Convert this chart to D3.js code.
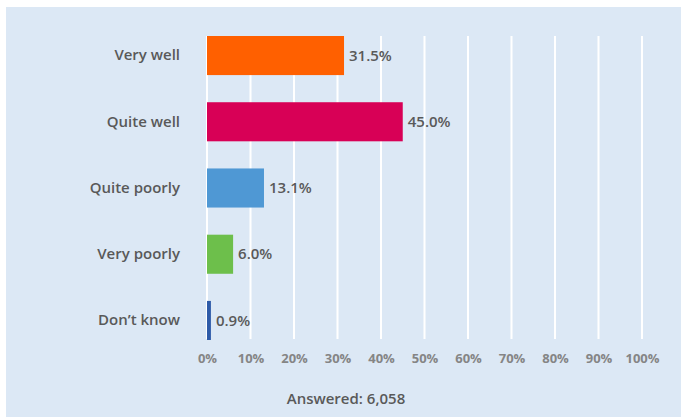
<!DOCTYPE html>
<html>
<head>
<meta charset="utf-8">
<script src="https://cdn.jsdelivr.net/npm/d3@7"></script>
<style>
  html, body { margin: 0; padding: 0; background: #ffffff; }
  svg { display: block; }
  text { font-family: "Open Sans", "DejaVu Sans", sans-serif; }
</style>
</head>
<body>
<svg id="chart" width="681" height="417"></svg>
<script>
// Survey responses (percent of respondents)
const categories = ["Very well", "Quite well", "Quite poorly", "Very poorly", "Don\u2019t know"];
const values = [31.5, 45.0, 13.1, 6.0, 0.9];
const barColors = ["#ff6000", "#d80056", "#4f98d4", "#6dbf4b", "#2e5ba8"];
const tickValues = [0, 10, 20, 30, 40, 50, 60, 70, 80, 90, 100];
const footnote = "Answered: 6,058";

const svg = d3.select("#chart");
const W = 681, H = 417;

// panel background
svg.append("rect")
  .attr("x", 6).attr("y", 7)
  .attr("width", W - 6).attr("height", H - 7)
  .attr("fill", "#dce8f5");

const x = d3.scaleLinear().domain([0, 100]).range([207, 642]);
const y = d3.scaleBand().domain(categories).range([36, 340])
  .paddingInner(0.41).paddingOuter(0);

// vertical gridlines
svg.append("g")
  .selectAll("line")
  .data(tickValues)
  .join("line")
  .attr("x1", d => x(d)).attr("x2", d => x(d))
  .attr("y1", 36).attr("y2", 339)
  .attr("stroke", "#ffffff")
  .attr("stroke-width", 2);

// bars
svg.append("g")
  .selectAll("rect")
  .data(values)
  .join("rect")
  .attr("x", x(0))
  .attr("y", (d, i) => y(categories[i]))
  .attr("width", d => x(d) - x(0))
  .attr("height", y.bandwidth())
  .attr("fill", (d, i) => barColors[i]);

// value labels
svg.append("g")
  .selectAll("text")
  .data(values)
  .join("text")
  .attr("x", d => x(d) + 5)
  .attr("y", (d, i) => y(categories[i]) + y.bandwidth() / 2)
  .attr("dy", "0.35em")
  .attr("font-size", 15)
  .attr("font-weight", 600)
  .attr("fill", "#595959")
  .text(d => d.toFixed(1) + "%");

// category axis
const yAxis = svg.append("g")
  .attr("transform", "translate(180,0)")
  .call(d3.axisLeft(y).tickSize(0).tickPadding(0));
yAxis.select(".domain").remove();
yAxis.selectAll("text")
  .attr("font-size", 15)
  .attr("font-weight", 600)
  .attr("fill", "#595959")
  .style("font-family", "'Open Sans', sans-serif");

// percentage axis
const xAxis = svg.append("g")
  .attr("transform", "translate(0,354)")
  .call(d3.axisBottom(x).tickValues(tickValues).tickFormat(d => d + "%").tickSize(0).tickPadding(0));
xAxis.select(".domain").remove();
xAxis.selectAll("text")
  .attr("font-size", 13)
  .attr("font-weight", 700)
  .attr("fill", "#858585")
  .style("font-family", "'Open Sans', sans-serif");

// respondent count
svg.append("text")
  .attr("x", 346)
  .attr("y", 399)
  .attr("dy", "0.35em")
  .attr("text-anchor", "middle")
  .attr("font-size", 15)
  .attr("font-weight", 600)
  .attr("fill", "#595959")
  .text(footnote);
</script>
</body>
</html>
